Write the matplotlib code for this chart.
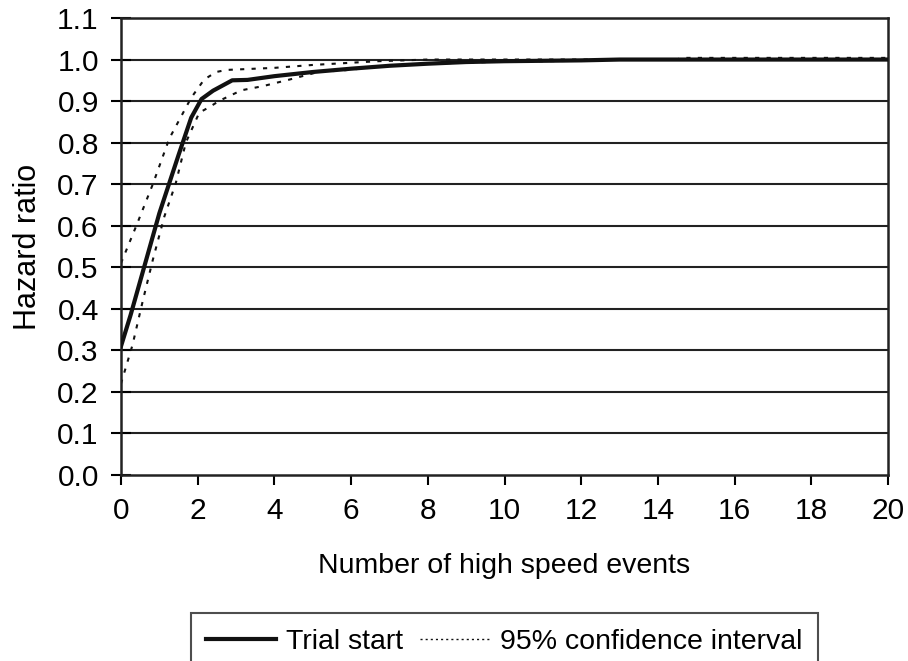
import matplotlib.pyplot as plt
from matplotlib.lines import Line2D

plt.rcParams['font.family'] = ['Liberation Sans', 'DejaVu Sans']

# values
x_main = [0, 0.25, 1.0, 1.5, 1.83, 2.1, 2.4, 2.9, 3.3, 4, 5, 6, 7, 8, 9, 10, 12, 13, 20]
hr_main = [0.31, 0.385, 0.63, 0.77, 0.86, 0.905, 0.925, 0.95, 0.951, 0.96, 0.97, 0.978, 0.985,
           0.99, 0.994, 0.996, 0.998, 1.0, 1.0]

x_upper = [0, 0.4, 0.83, 1.26, 1.83, 2.17, 2.48, 2.75, 4, 5, 6.7, 8, 14.5, 14.6, 20]
hr_upper = [0.51, 0.60, 0.70, 0.81, 0.908, 0.952, 0.970, 0.975, 0.98, 0.987, 0.996, 1.0, 1.0,
            1.004, 1.004]

x_lower = [0, 0.30, 0.57, 0.83, 1.13, 1.43, 1.69, 2.04, 2.31, 2.57, 3.14, 3.7, 4.4, 5.18, 5.7,
           7, 8, 10, 12, 13, 20]
hr_lower = [0.22, 0.313, 0.42, 0.518, 0.622, 0.703, 0.80, 0.872, 0.886, 0.901, 0.926, 0.936,
            0.952, 0.971, 0.973, 0.985, 0.99, 0.995, 0.997, 1.0, 1.0]

xticks = list(range(0, 21, 2))
yticks = [i / 10 for i in range(12)]

fig = plt.figure(figsize=(9.08, 6.61), dpi=100)
ax = fig.add_axes([121 / 908, 1 - 475 / 661, 767 / 908, 457 / 661])

for y in yticks[1:]:
    ax.axhline(y, color='#222222', lw=1.5, zorder=1)

dots = (0, (2, 3.5))
ax.plot(x_lower, hr_lower, color='#111111', lw=1.5, ls=dots, zorder=2)
ax.plot(x_upper, hr_upper, color='#111111', lw=1.5, ls=dots, zorder=2)
ax.plot(x_main, hr_main, color='#111111', lw=3, zorder=3)

ax.set_xlim(0, 20)
ax.set_ylim(0, 1.1)
ax.set_xticks(xticks)
ax.set_yticks(yticks)
ax.set_yticklabels([f'{v:.1f}' for v in yticks])
ax.tick_params(axis='x', direction='out', length=7, width=1.5, labelsize=21.5, pad=9)
ax.tick_params(axis='y', direction='inout', length=14, width=1.5, labelsize=21.5, pad=9)
for s in ax.spines.values():
    s.set_linewidth(1.8)
    s.set_color('#222222')

ax.set_xlabel('Number of high speed events', fontsize=20.5, labelpad=20)
ax.set_ylabel('Hazard ratio', fontsize=22, labelpad=10)

handles = [Line2D([], [], color='#111111', lw=3),
           Line2D([], [], color='#111111', lw=1.0, ls=(0, (1.5, 2.2)))]
labels = ['Trial start', '95% confidence interval']
leg = fig.legend(handles, labels, loc='upper center', bbox_to_anchor=(504.5 / 908, 1 - 613 / 661),
                 ncol=2, fontsize=20.5, frameon=True, fancybox=False, edgecolor='#222222',
                 handlelength=2.45, handletextpad=0.35, columnspacing=0.6, borderpad=0.55,
                 borderaxespad=0)
leg.get_frame().set_linewidth(1.5)

fig.savefig('out.png', dpi=100)
